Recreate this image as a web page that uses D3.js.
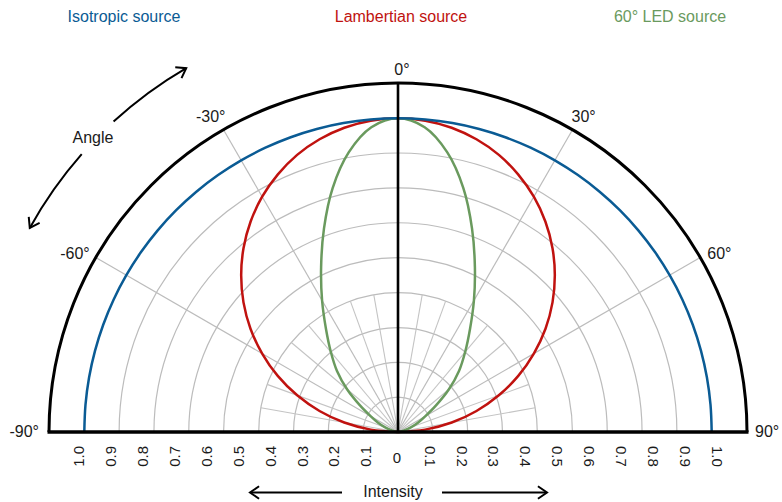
<!DOCTYPE html>
<html>
<head>
<meta charset="utf-8">
<script src="https://cdn.jsdelivr.net/npm/d3@7"></script>
<style>
	body { margin: 0; background: #fff; }
	svg { display: block; }
	text { font-family: "Liberation Sans", Arial, Helvetica, sans-serif; fill: #1a1a1a; }
</style>
</head>
<body>
<svg id="chart" width="782" height="502"></svg>
<script>
// angle from the axis, degrees (0 = straight up, negative to the left)
var angleDeg = [-90,-85,-80,-75,-70,-65,-60,-55,-50,-45,-40,-35,-30,-25,-20,-15,-10,-5,
	0,5,10,15,20,25,30,35,40,45,50,55,60,65,70,75,80,85,90];

// relative intensity at those angles
var isotropic = [1,1,1,1,1,1,1,1,1,1,1,1,1,1,1,1,1,1,
	1,1,1,1,1,1,1,1,1,1,1,1,1,1,1,1,1,1,1];
var lambertian = [0,0.087,0.174,0.259,0.342,0.423,0.5,0.574,0.643,0.707,0.766,0.819,0.866,0.906,0.94,0.966,0.985,0.996,
	1,0.996,0.985,0.966,0.94,0.906,0.866,0.819,0.766,0.707,0.643,0.574,0.5,0.423,0.342,0.259,0.174,0.087,0];
var led60 = [0,0.003,0.01,0.025,0.045,0.07,0.1,0.148,0.212,0.275,0.333,0.4,0.484,0.58,0.69,0.805,0.905,0.975,
	1,0.975,0.905,0.805,0.69,0.58,0.484,0.4,0.333,0.275,0.212,0.148,0.1,0.07,0.045,0.025,0.01,0.003,0];

var seriesNames = ["Isotropic source", "Lambertian source", "60° LED source"];
var ringValues = [0.111, 0.222, 0.333, 0.444, 0.556, 0.667, 0.778, 0.889];
var intensityTicks = [0.1, 0.2, 0.3, 0.4, 0.5, 0.6, 0.7, 0.8, 0.9, 1.0];
var angleTicks = [-90, -60, -30, 0, 30, 60, 90];
var majorSpokes = [-60, -30, 30, 60];
var minorSpokes = [-80, -70, -50, -40, -20, -10, 10, 20, 40, 50, 70, 80];

var colors = { iso: "#0a5b94", lam: "#c0120f", led: "#6a9a5e" };

var cx = 398, cy = 432;
var outerR = 349;

var svg = d3.select("#chart");
var r = d3.scaleLinear().domain([0, 1]).range([0, 313.7]);
// tick labels sit a little wider than the rings
var labelX = d3.scaleLinear().domain([0, 1]).range([0, 319]);
var rad = function(d) { return d * Math.PI / 180; };
function polar(deg, rr) {
	return [rr * Math.sin(rad(deg)), -rr * Math.cos(rad(deg))];
}
function halfCircle(rr) {
	var p = d3.path();
	p.arc(0, 0, rr, Math.PI, 2 * Math.PI);
	return p.toString();
}

var g = svg.append("g").attr("transform", "translate(" + cx + "," + cy + ")");

// grid
g.selectAll(".ring")
	.data(ringValues)
	.join("path")
	.attr("class", "ring")
	.attr("d", function(d) { return halfCircle(r(d)); })
	.style("fill", "none")
	.style("stroke", "#bcbcbc")
	.style("stroke-width", 1.2);

g.selectAll(".spoke")
	.data(majorSpokes)
	.join("line")
	.attr("class", "spoke")
	.attr("x2", function(d) { return polar(d, outerR)[0]; })
	.attr("y2", function(d) { return polar(d, outerR)[1]; })
	.style("stroke", "#bcbcbc")
	.style("stroke-width", 1.2);

g.selectAll(".minor")
	.data(minorSpokes)
	.join("line")
	.attr("class", "minor")
	.attr("x2", function(d) { return polar(d, r(0.444))[0]; })
	.attr("y2", function(d) { return polar(d, r(0.444))[1]; })
	.style("stroke", "#c4c4c4")
	.style("stroke-width", 1.1);

// curves
var radial = d3.lineRadial()
	.angle(function(d, i) { return rad(angleDeg[i]); })
	.radius(function(d) { return r(d); })
	.curve(d3.curveCatmullRom);

[[lambertian, colors.lam], [led60, colors.led], [isotropic, colors.iso]].forEach(function(s) {
	g.append("path")
		.attr("d", radial(s[0]))
		.style("fill", "none")
		.style("stroke", s[1])
		.style("stroke-width", 2.5);
});

// frame
g.append("path")
	.attr("d", halfCircle(outerR))
	.style("fill", "none")
	.style("stroke", "#000")
	.style("stroke-width", 3);
g.append("line")
	.attr("y2", -outerR)
	.style("stroke", "#000")
	.style("stroke-width", 2.6);
g.append("line")
	.attr("x1", -outerR - 1.5)
	.attr("x2", outerR + 1.5)
	.style("stroke", "#000")
	.style("stroke-width", 3.5);

// angle labels
g.selectAll(".alabel")
	.data(angleTicks)
	.join("text")
	.attr("class", "alabel")
	.attr("x", function(d) {
		var p = polar(d, outerR);
		if (d === 0) return p[0] + 4;
		if (Math.abs(d) === 30) return p[0] + (d < 0 ? 2 : -1);
		if (Math.abs(d) === 60) return p[0] + (d < 0 ? -6 : 7);
		return p[0] + (d < 0 ? -10 : 8);
	})
	.attr("y", function(d) {
		var p = polar(d, outerR);
		if (d === 0) return p[1] - 8;
		if (Math.abs(d) === 30) return p[1] - 7.5;
		if (Math.abs(d) === 60) return p[1] + 1.5;
		return p[1] + 5;
	})
	.attr("text-anchor", function(d) { return d === 0 ? "middle" : (d < 0 ? "end" : "start"); })
	.style("font-size", "16px")
	.text(function(d) { return d + "°"; });

// intensity labels, mirrored on both sides
var fmt = d3.format(".1f");
g.selectAll(".ileft")
	.data(intensityTicks)
	.join("text")
	.attr("class", "ileft")
	.attr("transform", function(d) { return "translate(" + (-labelX(d)) + ",14) rotate(-90)"; })
	.attr("text-anchor", "end")
	.attr("dy", "0.35em")
	.style("font-size", "15px")
	.text(fmt);
g.selectAll(".iright")
	.data(intensityTicks)
	.join("text")
	.attr("class", "iright")
	.attr("transform", function(d) { return "translate(" + labelX(d) + ",14) rotate(90)"; })
	.attr("text-anchor", "start")
	.attr("dy", "0.35em")
	.style("font-size", "15px")
	.text(fmt);
g.append("text")
	.attr("x", -1)
	.attr("y", 31)
	.attr("text-anchor", "middle")
	.style("font-size", "15px")
	.text("0");

// intensity arrows
function chevron(tx, ty, dx, dy, len, spread) {
	var a = Math.atan2(-dy, -dx);
	var p1 = [tx + len * Math.cos(a + spread), ty + len * Math.sin(a + spread)];
	var p2 = [tx + len * Math.cos(a - spread), ty + len * Math.sin(a - spread)];
	return "M" + p1 + "L" + tx + "," + ty + "L" + p2;
}
var arrows = svg.append("g")
	.style("fill", "none")
	.style("stroke", "#000")
	.style("stroke-width", 2);
arrows.append("line").attr("x1", 342).attr("x2", 251).attr("y1", 492.5).attr("y2", 492.5);
arrows.append("path").attr("d", chevron(250, 492.5, -1, 0, 11, 0.6));
arrows.append("line").attr("x1", 442).attr("x2", 546).attr("y1", 492.5).attr("y2", 492.5);
arrows.append("path").attr("d", chevron(547, 492.5, 1, 0, 11, 0.6));

svg.append("text")
	.attr("x", 393)
	.attr("y", 496.5)
	.attr("text-anchor", "middle")
	.style("font-size", "16px")
	.text("Intensity");

// angle arrow, curved, broken around its label
var arcR = 421;
[[-61, -48.7], [-42.5, -30.2]].forEach(function(seg) {
	var p = d3.path();
	p.arc(cx, cy, arcR, rad(seg[0]) - Math.PI / 2, rad(seg[1]) - Math.PI / 2);
	arrows.append("path").attr("d", p.toString());
});
(function() {
	var top = polar(-30.2, arcR), bot = polar(-61, arcR);
	arrows.append("path").attr("d", chevron(cx + top[0], cy + top[1],
		Math.cos(rad(-30.2)), Math.sin(rad(-30.2)), 11, 0.6));
	arrows.append("path").attr("d", chevron(cx + bot[0], cy + bot[1],
		-Math.cos(rad(-61)), -Math.sin(rad(-61)), 11, 0.6));
})();
var ap = polar(-46, 424);
svg.append("text")
	.attr("x", cx + ap[0])
	.attr("y", cy + ap[1])
	.attr("dy", "0.35em")
	.attr("text-anchor", "middle")
	.style("font-size", "16px")
	.text("Angle");

// series titles
svg.selectAll(".title")
	.data(seriesNames)
	.join("text")
	.attr("class", "title")
	.attr("x", function(d, i) { return [124, 401, 670][i]; })
	.attr("y", 22)
	.attr("text-anchor", "middle")
	.style("font-size", "16px")
	.style("fill", function(d, i) { return [colors.iso, colors.lam, colors.led][i]; })
	.text(function(d) { return d; });
</script>
</body>
</html>
